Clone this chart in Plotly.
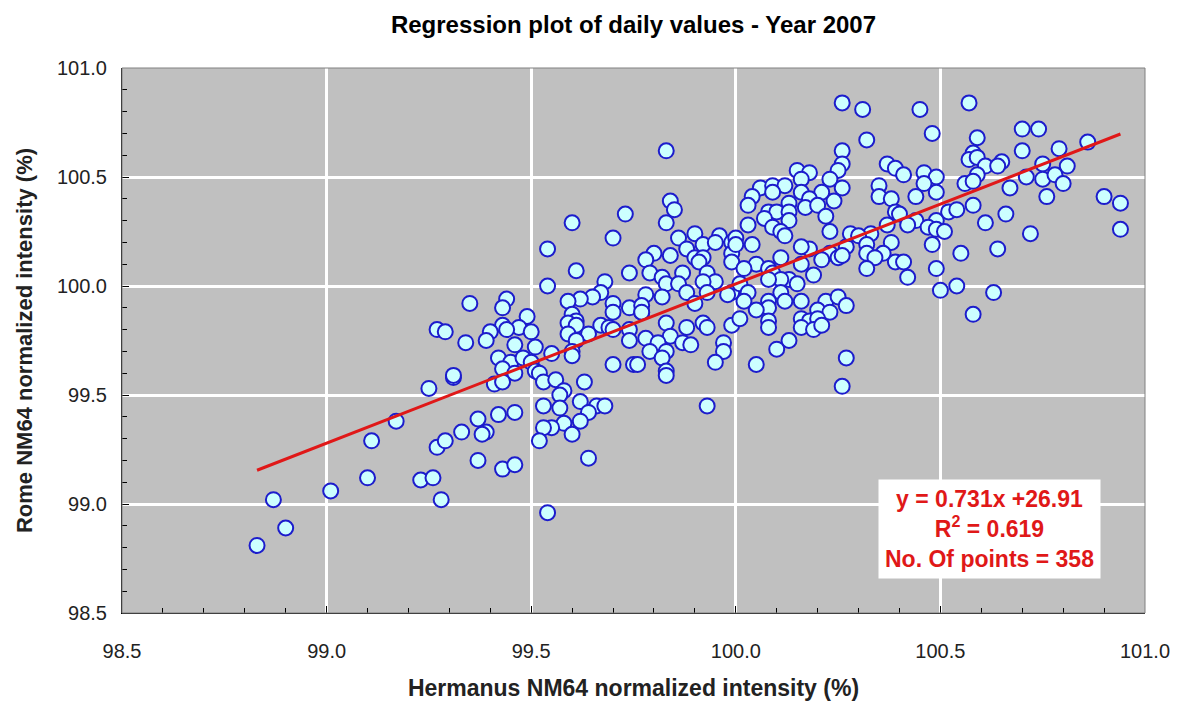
import plotly.graph_objects as go

# Daily normalized intensities (%)
hermanus = [
    98.83, 98.90, 98.87, 99.01, 99.10, 99.11, 99.17, 99.25, 99.23, 99.26, 99.27, 99.28,
    99.35, 99.44, 99.43, 99.49, 99.47, 99.43, 99.44, 99.50, 99.40, 99.39, 99.27, 99.29,
    99.34, 99.46, 99.51, 99.42, 99.45, 99.48, 99.50, 99.43, 99.51, 99.46, 99.41, 99.43,
    99.31, 99.31, 99.42, 99.46, 99.37, 99.39, 99.38, 99.33, 99.29, 99.37, 99.43, 99.46,
    99.73, 99.60, 99.70, 99.54, 99.61, 99.74, 99.54, 99.68, 99.67, 99.65, 99.62, 99.59,
    99.70, 99.70, 99.74, 99.60, 99.61, 99.59, 99.77, 99.67, 99.69,
    99.61, 99.70, 99.74, 99.64, 99.59, 99.74, 99.61, 99.55, 99.60, 99.60, 99.70, 99.75,
    99.52, 99.53, 99.56, 99.63, 99.58, 99.57, 99.62, 99.66, 99.68, 99.64, 99.53, 99.57,
    99.62, 99.58, 99.55, 99.53, 99.60, 99.52, 99.64, 99.54,
    99.83, 99.84, 99.85, 99.83, 99.86, 99.90, 99.96, 99.88, 99.92, 99.95, 99.99, 99.80,
    99.78, 99.84, 99.90, 99.92, 99.91, 99.99, 99.99, 99.79, 99.82, 99.87, 99.93, 99.95,
    99.83, 99.86, 99.92, 99.78, 99.82, 99.88, 99.93, 99.99,
    99.90, 99.98, 99.77, 99.77, 99.83, 99.88, 99.92, 99.93, 99.99, 99.84, 99.78, 99.81,
    99.87, 99.89, 99.97, 99.79, 99.83, 99.82, 99.97, 99.76, 99.95, 99.83, 99.83, 99.93,
    100.26, 100.26, 100.26, 100.25, 100.15, 100.18, 100.16, 100.23, 100.26, 100.06, 100.09, 100.12,
    100.09, 100.04, 100.16, 100.21, 100.03, 100.18, 100.24, 100.13, 100.08, 100.10, 100.13, 100.17,
    100.20, 100.07, 100.13, 100.22, 100.03, 100.09, 100.11, 100.23, 100.12, 100.00,
    100.00, 100.04, 100.18, 100.16, 100.23, 100.27, 100.11, 100.21, 100.25, 100.05, 100.08, 100.16,
    100.02, 100.19, 100.09, 100.13, 100.11, 100.08, 100.15, 100.01, 100.03, 100.11, 100.16, 100.12,
    100.22, 100.25, 100.27, 100.02, 100.08, 100.08, 100.05, 100.20, 100.23, 100.01, 100.08, 100.16,
    100.18, 100.20, 100.08, 100.16, 100.19, 100.21, 100.13, 100.10, 100.05, 100.26, 100.27,
    100.31, 100.45, 100.32, 100.48, 100.37, 100.39, 100.41, 100.46, 100.49, 100.46, 100.49, 100.44,
    100.35, 100.35, 100.38, 100.39, 100.40, 100.44, 100.49, 100.52, 100.54, 100.37, 100.42, 100.47,
    100.49, 100.51, 100.28, 100.33, 100.30, 100.32, 100.38, 100.48, 100.26, 100.32, 100.36, 100.34,
    100.39, 100.41, 100.32, 100.42, 100.49, 100.50, 100.54,
    100.57, 100.70, 100.74, 100.59, 100.70, 100.79, 100.86, 100.58, 100.57, 100.59, 100.65, 100.75,
    100.61, 100.64, 100.81, 100.59, 100.71, 100.75, 100.78, 100.80, 100.56, 100.58, 100.67, 100.76,
    100.90, 100.94, 100.94, 100.58, 100.66, 100.61, 100.72, 100.55, 100.64, 100.63, 100.58,
]
rome = [
    98.81, 98.89, 99.02, 99.06, 99.12, 99.29, 99.38, 99.53, 99.11, 99.12, 99.26, 99.02,
    99.92, 99.94, 99.90, 99.86, 99.81, 99.82, 99.80, 99.79, 99.79, 99.75, 99.80, 99.79,
    99.74, 99.73, 99.72, 99.67, 99.65, 99.67, 99.65, 99.62, 99.61, 99.60, 99.55, 99.56,
    99.58, 99.59, 99.41, 99.42, 99.39, 99.33, 99.32, 99.33, 99.29, 99.20, 99.16, 99.18,
    100.33, 100.29, 100.22, 100.17, 100.07, 100.06, 100.00, 100.02, 99.97, 99.95, 99.94, 99.93,
    99.92, 99.88, 99.90, 99.87, 99.84, 99.83, 99.88, 99.82, 99.81,
    99.82, 99.80, 99.80, 99.78, 99.78, 99.75, 99.75, 99.69, 99.70, 99.68, 99.64, 99.64,
    99.60, 99.56, 99.57, 99.56, 99.52, 99.50, 99.47, 99.45, 99.45, 99.42, 99.45, 99.44,
    99.38, 99.37, 99.35, 99.35, 99.32, 99.29, 99.21, 98.96,
    100.62, 100.39, 100.35, 100.29, 100.22, 100.24, 100.23, 100.17, 100.19, 100.20, 100.20, 100.15,
    100.12, 100.14, 100.13, 100.13, 100.11, 100.15, 100.11, 100.06, 100.04, 100.06, 100.06, 100.02,
    100.01, 100.01, 100.02, 99.96, 99.95, 99.97, 99.97, 99.97,
    99.92, 99.96, 99.91, 99.88, 99.83, 99.81, 99.83, 99.81, 99.82, 99.77, 99.76, 99.74,
    99.74, 99.73, 99.74, 99.70, 99.70, 99.67, 99.70, 99.64, 99.65, 99.61, 99.59, 99.45,
    100.84, 100.62, 100.56, 100.53, 100.53, 100.52, 100.49, 100.49, 100.45, 100.45, 100.46, 100.46,
    100.43, 100.41, 100.43, 100.43, 100.37, 100.40, 100.39, 100.38, 100.34, 100.34, 100.34, 100.36,
    100.37, 100.31, 100.30, 100.32, 100.28, 100.27, 100.25, 100.25, 100.23, 100.22,
    100.19, 100.19, 100.17, 100.18, 100.15, 100.18, 100.13, 100.12, 100.13, 100.10, 100.08, 100.10,
    100.08, 100.05, 100.06, 100.03, 100.03, 100.03, 100.01, 100.01, 99.97, 99.97, 99.93, 99.93,
    99.93, 99.95, 99.91, 99.93, 99.93, 99.90, 99.89, 99.89, 99.88, 99.85, 99.84, 99.85,
    99.84, 99.85, 99.81, 99.81, 99.80, 99.82, 99.75, 99.71, 99.64, 99.54, 99.67,
    100.81, 100.81, 100.67, 100.70, 100.56, 100.54, 100.51, 100.52, 100.50, 100.47, 100.43, 100.41,
    100.46, 100.41, 100.40, 100.34, 100.33, 100.30, 100.30, 100.34, 100.35, 100.28, 100.28, 100.27,
    100.26, 100.25, 100.24, 100.24, 100.23, 100.19, 100.20, 100.19, 100.14, 100.15, 100.15, 100.13,
    100.11, 100.11, 100.08, 100.04, 100.08, 99.98, 100.00,
    100.84, 100.72, 100.72, 100.68, 100.62, 100.63, 100.66, 100.61, 100.58, 100.59, 100.57, 100.56,
    100.55, 100.55, 100.55, 100.51, 100.50, 100.49, 100.51, 100.47, 100.47, 100.48, 100.45, 100.41,
    100.41, 100.38, 100.26, 100.37, 100.33, 100.29, 100.24, 100.15, 100.17, 99.97, 99.87,
]

slope = 0.731
intercept = 26.91
r_squared = 0.619
n_points = 358

ticks = [98.5, 99.0, 99.5, 100.0, 100.5, 101.0]
tick_labels = [f"{t:.1f}" for t in ticks]

x_line = [min(hermanus), max(hermanus)]
y_line = [slope * v + intercept for v in x_line]

fig = go.Figure()
fig.add_trace(go.Scatter(
    x=hermanus, y=rome, mode="markers",
    marker=dict(size=15, color="#ccffff", line=dict(color="#1c1ccc", width=2)),
    showlegend=False, hoverinfo="x+y",
))
fig.add_trace(go.Scatter(
    x=x_line, y=y_line, mode="lines",
    line=dict(color="#e01818", width=3), showlegend=False, hoverinfo="skip",
))

font = "Liberation Sans, Arial, sans-serif"
axis_common = dict(
    range=[98.5, 101.0], tickvals=ticks, ticktext=tick_labels,
    showgrid=True, gridcolor="white", gridwidth=2.5,
    zeroline=False, showline=True, linecolor="black", linewidth=1,
    ticks="inside", ticklen=7, tickcolor="black",
    minor=dict(dtick=0.1, ticks="inside", ticklen=5, tickcolor="black", showgrid=False),
    tickfont=dict(family=font, size=20, color="#222"),
)

fig.update_layout(
    width=1181, height=700,
    margin=dict(l=114, r=44, t=60, b=95),
    paper_bgcolor="white", plot_bgcolor="#c0c0c0",
    title=dict(text="<b>Regression plot of daily values - Year 2007</b>",
               x=0.5, xref="paper", y=0.977, yanchor="middle",
               font=dict(family=font, size=24, color="black")),
    xaxis=dict(**axis_common, ticklabelstandoff=20,
               title=dict(text="<b>Hermanus NM64 normalized intensity (%)</b>",
                          font=dict(family=font, size=23, color="#222"), standoff=18)),
    yaxis=dict(**axis_common, ticklabelstandoff=10,
               title=dict(text="<b>Rome NM64 normalized intensity (%)</b>",
                          font=dict(family=font, size=22, color="#222"), standoff=18)),
    shapes=[dict(type="rect", xref="paper", yref="paper", x0=0, x1=1, y0=0, y1=1,
                 line=dict(color="#808080", width=1), layer="above")],
)

fig.add_annotation(
    xref="paper", yref="paper", x=0.848, y=0.154, xanchor="center", yanchor="middle",
    text=(f"<b>y = {slope}x +{intercept}</b><br><b>R<sup>2</sup> = {r_squared}</b>"
          f"<br><b>No. Of points = {n_points}</b>"),
    showarrow=False, align="center", bgcolor="white", borderpad=6,
    font=dict(family=font, size=23, color="#e01818"),
)

fig.write_html("out.html")
